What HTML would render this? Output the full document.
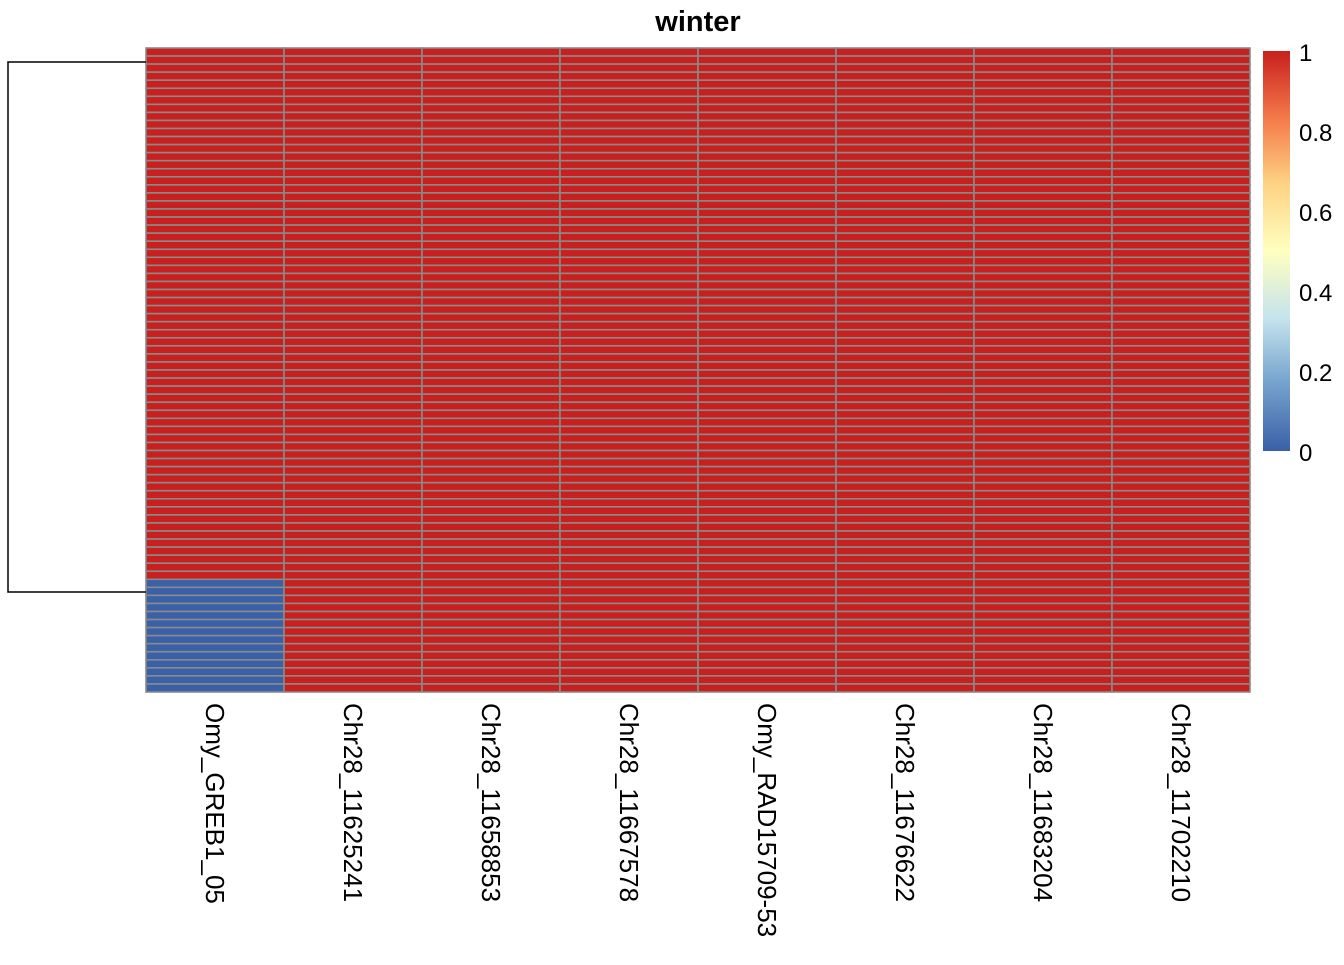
<!DOCTYPE html>
<html><head><meta charset="utf-8"><style>
body{margin:0;background:#fff;}
svg text{font-family:"Liberation Sans",Arial,sans-serif;}
</style></head><body>
<svg id="chart" width="1344" height="960" viewBox="0 0 1344 960">
<defs><linearGradient id="lg" x1="0" y1="1" x2="0" y2="0">
<stop offset="0" stop-color="#3a60a8"/><stop offset="0.17" stop-color="#74a3cc"/><stop offset="0.33" stop-color="#c5e3ee"/><stop offset="0.5" stop-color="#ffffbf"/><stop offset="0.67" stop-color="#fdd283"/><stop offset="0.83" stop-color="#f57a4a"/><stop offset="1" stop-color="#c8201e"/>
</linearGradient></defs>
<text x="698" y="31" text-anchor="middle" font-size="29" font-weight="bold">winter</text>
<g id="cells"></g>
<g id="dendro" stroke="#000" stroke-width="1.5" fill="none">
<path d="M146 62 H8 V592 H146"/>
</g>
<g id="xlabels"></g>
<rect x="1263" y="51" width="27" height="400" fill="url(#lg)"/>
<g id="legend"></g>
</svg>
<script>
const columns=["Omy_GREB1_05","Chr28_11625241","Chr28_11658853","Chr28_11667578","Omy_RAD15709-53","Chr28_11676622","Chr28_11683204","Chr28_11702210"];
const nRows=80;
const blueRowsFirstColumn=14;
const legendTicks=["0","0.2","0.4","0.6","0.8","1"];
const ns="http://www.w3.org/2000/svg";
const X0=146,X1=1250,Y0=48,Y1=692;
const cw=(X1-X0)/columns.length, ch=(Y1-Y0)/nRows;
function val(r,c){return (c===0 && r>=nRows-blueRowsFirstColumn)?0:1;}
function color(v){return v<0.5?"#3a60a8":"#c8201e";}
const g=document.getElementById('cells');
for(let r=0;r<nRows;r++)for(let c=0;c<columns.length;c++){
 const e=document.createElementNS(ns,'rect');
 e.setAttribute('x',X0+c*cw);e.setAttribute('y',Y0+r*ch);
 e.setAttribute('width',cw);e.setAttribute('height',ch);
 e.setAttribute('fill',color(val(r,c)));e.setAttribute('stroke','#8a8a8a');e.setAttribute('stroke-width','1.6');
 
 
 g.appendChild(e);
}
const xl=document.getElementById('xlabels');
columns.forEach((n,i)=>{
 const t=document.createElementNS(ns,'text');
 const x=X0+(i+0.5)*cw-9;
 t.setAttribute('transform',`translate(${x},703) rotate(90)`);
 t.setAttribute('font-size','26');t.textContent=n;
 
 
 xl.appendChild(t);
});
const lg=document.getElementById('legend');
legendTicks.forEach((s,i)=>{
 const t=document.createElementNS(ns,'text');
 t.setAttribute('x',1299);t.setAttribute('y',452-i*80+9);
 t.setAttribute('font-size','24');t.textContent=s;
 
 
 lg.appendChild(t);
});
</script>
</body></html>
